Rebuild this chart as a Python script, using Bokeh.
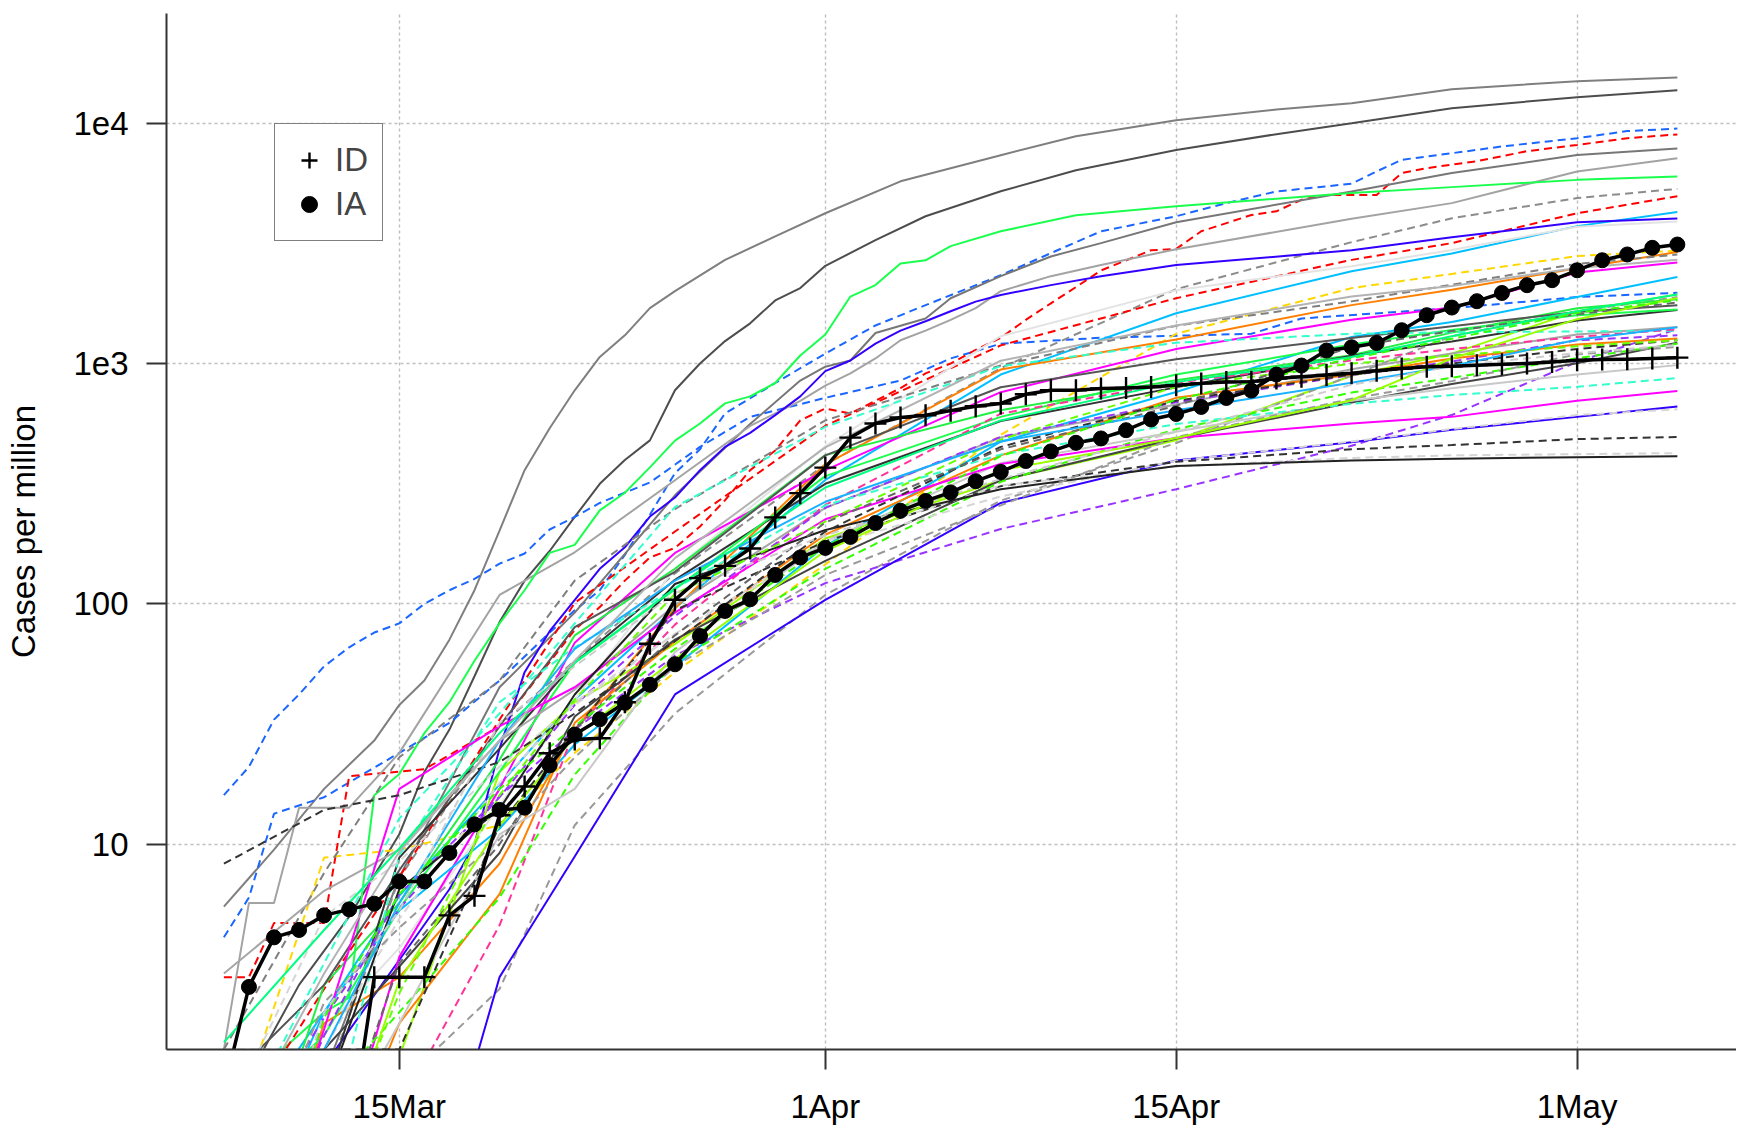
import math
from datetime import date, timedelta
from bokeh.plotting import figure
from bokeh.models import Range1d, FixedTicker, Legend, LegendItem
from bokeh.embed import file_html
from bokeh.resources import INLINE

nan = float("nan")

# ---------------- data ----------------
START = date(2020, 3, 8)
N_DAYS = 59                      # 8 Mar .. 5 May
ORIGIN = date(2020, 3, 15)

TICK_DATES = ["2020-03-15", "2020-04-01", "2020-04-15", "2020-05-01"]
TICK_LABELS = ["15Mar", "1Apr", "15Apr", "1May"]
Y_TICKS = [10, 100, 1000, 10000]
Y_LABELS = ["10", "100", "1e3", "1e4"]

# highlighted states, daily values (cases per million), 8 Mar .. 5 May
IA = [0.95, 2.55, 4.1, 4.4, 5.06, 5.36, 5.66, 7.0, 7.0, 9.2, 12.1, 13.9, 14.2,
      21.3, 28.6, 33.1, 38.8, 46.1, 56.1, 73.5, 93.5, 104.5, 132, 156,
      171, 190, 217, 244, 268, 291, 324, 354, 393, 431, 468, 488, 528, 585, 617,
      660, 719, 772, 900, 981, 1133, 1169, 1218, 1376, 1589, 1710, 1817, 1966,
      2118, 2222, 2444, 2690, 2843, 3030, 3127]
ID = [nan, nan, nan, nan, nan, 0.56, 2.8, 2.8, 2.8, 5.06, 6.1, 13.2, 17.4,
      23.9, 27.3, 27.6, 39, 68.3, 104, 128, 144, 170, 229, 289,
      369, 492, 563, 596, 609, 637, 664, 682, 745, 774, 774, 787, 791, 798, 813,
      827, 838, 841, 867, 881, 896, 911, 933, 953, 969, 975, 985, 994,
      1000, 1016, 1033, 1040, 1043, 1050, 1058]

# most other states: values at these dates
KEY_DATES = ["2020-03-08", "2020-03-12", "2020-03-15", "2020-03-19", "2020-03-22",
             "2020-03-26", "2020-04-01", "2020-04-08", "2020-04-15", "2020-04-22",
             "2020-04-26", "2020-05-01", "2020-05-05"]

# a few prominent states read in more detail (own dates)
NY_DATES = ["03-08", "03-10", "03-12", "03-14", "03-15", "03-16", "03-17", "03-18",
            "03-19", "03-20", "03-21", "03-22", "03-23", "03-24", "03-25", "03-26",
            "03-28", "03-30", "04-01", "04-04", "04-08", "04-11", "04-15", "04-19",
            "04-22", "04-26", "05-01", "05-05"]
NY = [5.5, 9.5, 17, 27, 38, 48, 71, 114, 202, 360, 538, 774, 1065, 1310, 1700, 2000,
      2700, 3380, 4220, 5730, 7360, 8830, 10290, 11400, 12100, 13850, 14950, 15500]

NJ_DATES = ["03-08", "03-11", "03-13", "03-15", "03-16", "03-17", "03-18", "03-19",
            "03-20", "03-21", "03-22", "03-23", "03-24", "03-25", "03-26", "03-27",
            "03-28", "03-29", "03-30", "03-31", "04-01", "04-03", "04-05", "04-08",
            "04-11", "04-15", "04-19", "04-22", "04-26", "05-01", "05-05"]
NJ = [0.7, 2.6, 5, 11, 20, 30, 50, 84, 125, 166, 230, 316, 397, 479, 774, 1000,
      1240, 1470, 1830, 2060, 2550, 3260, 4100, 5210, 6370, 7740, 9000, 10000,
      11540, 12830, 13700]

LA_DATES = ["03-08", "03-10", "03-12", "03-13", "03-14", "03-15", "03-16", "03-17",
            "03-18", "03-19", "03-20", "03-21", "03-22", "03-23", "03-24", "03-25",
            "03-26", "03-27", "03-28", "03-29", "03-30", "03-31", "04-01", "04-02",
            "04-03", "04-04", "04-05", "04-06", "04-08", "04-11", "04-15", "04-22",
            "04-26", "05-01", "05-05"]
LA = [0.2, 1.3, 2.0, 2.3, 16, 19.6, 29, 39, 58, 83, 114, 163, 176, 245, 290, 370,
      478, 563, 683, 730, 830, 1080, 1320, 1900, 2120, 2610, 2690, 3080, 3550, 4140,
      4510, 5120, 5420, 5810, 6000]

WA_DATES = ["03-08", "03-09", "03-10", "03-11", "03-12", "03-13", "03-14", "03-15",
            "03-16", "03-17", "03-18", "03-19", "03-20", "03-21", "03-22", "03-23",
            "03-25", "03-27", "03-29", "04-01", "04-04", "04-06", "04-08", "04-12",
            "04-18", "04-20", "04-26", "05-01", "05-05"]
WA = [16, 21, 33, 42, 55, 66, 76, 83, 100, 114, 127, 147, 162, 204, 230, 263, 320,
      450, 600, 720, 850, 1050, 1210, 1280, 1330, 1540, 1700, 1890, 1970]

MA_DATES = ["03-08", "03-09", "03-10", "03-12", "03-15", "03-17", "03-19", "03-21",
            "03-22", "03-23", "03-24", "03-25", "03-26", "03-27", "03-28", "03-30",
            "04-01", "04-03", "04-05", "04-08", "04-10", "04-12", "04-15", "04-17",
            "04-19", "04-22", "04-23", "04-24", "04-26", "04-28", "05-01", "05-03",
            "05-05"]
MA = [4.1, 6, 13.4, 15.7, 24, 32, 48, 76, 94, 114, 160, 235, 350, 440, 620, 830,
      1100, 1440, 1750, 2330, 2880, 3550, 4100, 4650, 5200, 5600, 6300, 7040, 7500,
      8000, 8660, 9270, 9500]

RI_DATES = ["03-08", "03-09", "03-10", "03-12", "03-13", "03-16", "03-19", "03-22",
            "03-23", "03-24", "03-25", "03-26", "03-27", "03-28", "03-29", "03-30",
            "03-31", "04-01", "04-02", "04-03", "04-04", "04-05", "04-06", "04-07",
            "04-08", "04-09", "04-10", "04-11", "04-12", "04-14", "04-15", "04-16",
            "04-18", "04-19", "04-20", "04-21", "04-23", "04-24", "04-25", "04-27",
            "04-29", "05-01", "05-03", "05-05"]
RI = [2.8, 2.8, 4.7, 4.7, 19.2, 20.5, 31, 78, 97, 125, 156, 171, 210, 270, 360, 435,
      580, 650, 620, 700, 790, 910, 1000, 1140, 1280, 1520, 1780, 2080, 2440, 2960,
      3000, 3550, 4150, 4300, 4800, 5030, 5030, 6200, 6500, 6950, 7650, 8120, 8660,
      8980]

MI_DATES = ["03-10", "03-12", "03-15", "03-17", "03-18", "03-19", "03-20", "03-21",
            "03-23", "03-24", "03-25", "03-26", "03-27", "03-28", "03-29", "03-30",
            "03-31", "04-01", "04-02", "04-03", "04-04", "04-05", "04-06", "04-07",
            "04-08", "04-10", "04-12", "04-15", "04-22", "04-26", "05-01", "05-05"]
MI = [0.2, 1.2, 3.3, 6.5, 10, 25, 52, 77, 140, 172, 231, 277, 360, 450, 515, 610,
      730, 930, 1030, 1210, 1370, 1500, 1650, 1810, 1930, 2120, 2310, 2570, 2960,
      3350, 3870, 4010]

CT_DATES = ["03-08", "03-12", "03-15", "03-19", "03-22", "03-26", "03-29", "03-31",
            "04-01", "04-02", "04-03", "04-05", "04-06", "04-08", "04-10", "04-12",
            "04-15", "04-22", "04-26", "05-01", "05-05"]
CT = [0.5, 1.1, 7.3, 45, 92, 283, 560, 850, 970, 1030, 1340, 1540, 1870, 2310, 2790,
      3170, 3870, 5200, 6200, 7370, 7850]

DC_DATES = ["03-08", "03-09", "03-10", "03-11", "03-13", "03-15", "03-19", "03-22",
            "03-26", "03-29", "03-31", "04-01", "04-02", "04-03", "04-04", "04-05",
            "04-06", "04-07", "04-08", "04-10", "04-12", "04-15", "04-22", "04-26",
            "05-01", "05-05"]
DC = [1.4, 5.7, 5.7, 14.2, 14.2, 24, 109, 164, 327, 550, 700, 810, 910, 1050, 1250,
      1370, 1520, 1700, 2000, 2310, 2570, 2990, 4000, 4650, 6300, 7150]

DE = [0.3, 1.0, 7.2, 31, 58, 134, 380, 957, 2040, 3200, 4020, 4880, 5330]
IL = [0.55, 2.5, 7.3, 33, 101, 200, 551, 1190, 1870, 2700, 3170, 4220, 4970]
MD = [0.5, 2, 6.1, 17.7, 40, 96, 328, 900, 1620, 2420, 2870, 3730, 4270]
PA = [0.3, 1.7, 3.7, 14.5, 40, 140, 453, 1300, 2020, 2540, 2970, 3710, 3900]
SD = [0.5, 8.8, 9.5, 12, 24, 52, 146, 505, 1330, 2060, 2360, 2800, 2950]
IN = [0.1, 1.8, 2.8, 8.3, 30, 96, 381, 944, 1260, 1750, 2030, 2490, 2910]
CO = [1.4, 7.6, 23, 48, 125, 248, 580, 982, 1437, 1814, 2128, 2600, 2840]
MS = [0.1, 0.3, 3.4, 17, 69, 163, 360, 760, 1150, 1520, 1710, 2390, 2630]
VA = [0.23, 2, 5.3, 11.6, 26, 55, 174, 473, 761, 1290, 1490, 1890, 2290]
ND = [0.1, 0.5, 1.3, 20, 39, 68, 187, 327, 480, 890, 1100, 1650, 1940]
NE = [0.3, 0.5, 1, 2.5, 12, 35, 109, 269, 467, 892, 1300, 1650, 1890]
TN = [0.15, 2.6, 5.7, 22.5, 74, 140, 416, 639, 853, 1083, 1345, 1700, 1850]
NV = [1, 2.6, 7.8, 31, 80, 136, 415, 797, 1042, 1278, 1428, 1640, 1750]
UT = [0.3, 0.9, 8.8, 25, 57, 126, 316, 577, 796, 1077, 1234, 1509, 1670]
FL = [0.65, 1.6, 5.4, 20, 57, 115, 340, 600, 900, 1200, 1380, 1590, 1680]
CA = [2.9, 6.4, 9.5, 27, 44, 99, 251, 493, 676, 946, 1100, 1321, 1420]
MN = [0.18, 1.6, 6.2, 15.8, 30, 61, 122, 205, 300, 455, 611, 1016, 1392]
VT = [0.5, 3.2, 12.8, 35, 83, 253, 545, 975, 1220, 1330, 1350, 1360, 1370]
MO = [0.1, 0.2, 0.8, 4.6, 30, 82, 258, 619, 832, 1030, 1150, 1290, 1390]
SC = [0.4, 1.9, 5.4, 15.7, 38, 89, 251, 496, 690, 895, 1020, 1250, 1310]
AZ = [0.1, 0.3, 1.8, 6.2, 32, 70, 194, 415, 720, 900, 1050, 1200, 1270]
NC = [0.2, 1.4, 3.1, 9.2, 34, 71, 151, 327, 488, 688, 822, 1002, 1220]
TX = [0.45, 0.9, 2, 6, 19.5, 57, 140, 322, 534, 757, 872, 1052, 1210]
OK = [0.25, 0.5, 1.8, 11, 17, 63, 182, 385, 520, 700, 790, 900, 985]
ME = [0.1, 0.5, 9, 39, 66, 116, 257, 418, 560, 680, 740, 800, 870]
WY = [0.1, 1.7, 17, 31, 45, 92, 225, 382, 490, 563, 600, 700, 769]
WV = [nan, nan, 0.1, 2.8, 8.9, 42, 104, 263, 395, 470, 530, 600, 663]
OR = [0.7, 5, 8.5, 21, 38, 75, 174, 280, 394, 474, 534, 611, 645]
AK = [0.1, 1.4, 1.4, 12, 30, 94, 182, 309, 390, 440, 458, 485, 495]
HI = [1.4, 1.4, 4.9, 18, 39, 75, 182, 311, 373, 405, 415, 420, 424]
MT = [0.1, 0.9, 6.5, 14, 42, 121, 203, 300, 375, 395, 402, 408, 411]
GU = [8.3, 13.9, 16, 22, 35, 70, 200, 450, 700, 900, 1000, 1150, 1250]
AL = [0.1, 0.4, 2.4, 16, 40, 110, 220, 483, 800, 1000, 1080, 1180, 1250]
KY = [0.2, 2.2, 4.5, 10.5, 23, 55, 132, 257, 494, 714, 845, 1092, 1173]
OH = [0.1, 0.4, 3.2, 10, 30, 74, 218, 440, 667, 1174, 1365, 1603, 1794]
WI = [0.17, 1.4, 5.7, 27, 65, 125, 266, 474, 639, 832, 977, 1257, 1415]
KS = [0.34, 0.34, 2.7, 12, 28, 59, 166, 360, 490, 704, 1050, 1530, 1875]
NM = [0.1, 1.9, 6.2, 17, 31, 65, 173, 412, 707, 1052, 1267, 1625, 1833]
AR = [0.1, 2, 5.3, 32, 55, 111, 193, 331, 520, 816, 974, 1106, 1196]
NH = [1.5, 4.4, 9.6, 29, 57, 116, 305, 580, 837, 1064, 1300, 1650, 1938]
GA = [0.5, 2.9, 9.3, 27, 58, 155, 448, 1027, 1440, 1900, 2100, 2500, 2700]

DETAILED = {"NY": (NY_DATES, NY), "NJ": (NJ_DATES, NJ), "LA": (LA_DATES, LA),
            "WA": (WA_DATES, WA), "MA": (MA_DATES, MA), "RI": (RI_DATES, RI),
            "MI": (MI_DATES, MI), "CT": (CT_DATES, CT), "DC": (DC_DATES, DC)}

STATES = {
    "DE": DE, "IL": IL, "MD": MD, "PA": PA, "SD": SD,
    "IN": IN, "CO": CO, "MS": MS, "VA": VA, "ND": ND, "NE": NE, "TN": TN, "NV": NV,
    "UT": UT, "FL": FL, "CA": CA, "MN": MN, "VT": VT, "MO": MO, "SC": SC, "AZ": AZ,
    "NC": NC, "TX": TX, "OK": OK, "ME": ME, "WY": WY, "WV": WV, "OR": OR, "AK": AK,
    "HI": HI, "MT": MT, "GU": GU, "AL": AL, "KY": KY, "OH": OH, "WI": WI, "KS": KS,
    "NM": NM, "AR": AR, "NH": NH, "GA": GA,
}

# ---------------- styles ----------------
D = "8 5"
S = "solid"
STYLE = {
    "NY": ("#7f7f7f", S), "NJ": ("#4d4d4d", S), "MA": ("#1a66ff", D), "WA": ("#1a66ff", D),
    "RI": ("#ff0000", D), "CT": ("#777777", S), "DC": ("#a3a3a3", S), "LA": ("#1aff4d", S),
    "DE": ("#8c8c8c", D), "IL": ("#ff0000", D), "MD": ("#00bfff", S), "MI": ("#3300ff", S),
    "PA": ("#e3e3e3", S), "SD": ("#ffd700", D), "IN": ("#ff7f00", S), "CO": ("#7f7f7f", D),
    "MS": ("#ff00ff", S), "VA": ("#00bfff", S), "ND": ("#99ff00", S), "NE": ("#999999", D),
    "TN": ("#22ee44", S), "NV": ("#555555", S), "UT": ("#333333", S), "FL": ("#1aff4d", S),
    "CA": ("#a6a6a6", S), "MN": ("#9933ff", D), "VT": ("#33ffcc", D), "MO": ("#ff3399", D),
    "SC": ("#9933ff", D), "AZ": ("#ff7f00", S), "NC": ("#444444", S), "TX": ("#33ff00", D),
    "OK": ("#c8c8c8", S), "ME": ("#33ffcc", D), "WY": ("#ff00ff", S), "WV": ("#3300ff", S),
    "OR": ("#d6d6d6", D), "AK": ("#333333", D), "HI": ("#d6d6d6", D), "MT": ("#222222", S),
    "GU": ("#333333", D), "AL": ("#66ff00", D), "KY": ("#999999", D), "OH": ("#666666", D),
    "WI": ("#1ab2ff", S), "KS": ("#99ff00", S), "NM": ("#33ff00", D), "AR": ("#cccccc", D),
    "NH": ("#00ff80", S), "GA": ("#b3b3b3", S),
}
DRAW_ORDER = ["NY", "NJ", "MA", "WA", "RI", "CT", "DC", "LA", "DE", "IL", "MD", "MI",
              "PA", "SD", "IN", "CO", "MS", "VA", "ND", "NE", "TN", "NV", "UT", "FL",
              "CA", "MN", "VT", "MO", "SC", "AZ", "NC", "TX", "OK", "ME", "WY", "WV",
              "OR", "AK", "HI", "MT", "GU", "AL", "KY", "OH", "WI", "KS", "NM", "AR",
              "NH", "GA"]


def day(s):
    parts = list(map(int, s.split("-")))
    if len(parts) == 2:
        parts = [2020] + parts
    return (date(*parts) - ORIGIN).days


x_daily = [(START + timedelta(days=i) - ORIGIN).days for i in range(N_DAYS)]
x_key = [day(s) for s in KEY_DATES]

# ---------------- figure ----------------
PX_PER_DAY = 25.06
LEFT, RIGHT, TOP, BOTTOM = 166, 1736, 13, 1049
W, H = 1736, 1130
x0 = -9.29
p = figure(width=W, height=H, y_axis_type="log",
           x_range=Range1d(x0, x0 + (RIGHT - LEFT) / PX_PER_DAY),
           y_range=Range1d(1.40, 28600),
           output_backend="svg", toolbar_location=None,
           min_border_left=LEFT, min_border_right=W - RIGHT, min_border_top=TOP,
           min_border_bottom=H - BOTTOM)
p.outline_line_color = None
p.background_fill_color = "white"

FONT = "Liberation Sans"
xt = FixedTicker(ticks=[day(s) for s in TICK_DATES])
yt = FixedTicker(ticks=Y_TICKS)
p.xaxis.ticker = xt
p.yaxis.ticker = yt
p.xaxis.major_label_overrides = {day(s): lab for s, lab in zip(TICK_DATES, TICK_LABELS)}
p.yaxis.major_label_overrides = {v: lab for v, lab in zip(Y_TICKS, Y_LABELS)}
for ax in (p.xaxis[0], p.yaxis[0]):
    ax.major_label_text_font = FONT
    ax.major_label_text_font_size = "33px"
    ax.major_label_text_color = "black"
    ax.major_tick_out = 20
    ax.major_tick_in = 0
    ax.minor_tick_out = 0
    ax.minor_tick_in = 0
    ax.major_tick_line_width = 2
    ax.major_tick_line_color = "#333333"
    ax.axis_line_width = 2
    ax.axis_line_color = "#333333"
    ax.major_label_standoff = 18
p.yaxis.axis_label = "Cases per million"
p.yaxis.axis_label_text_font = FONT
p.yaxis.axis_label_text_font_size = "33px"
p.yaxis.axis_label_text_font_style = "normal"
p.yaxis.axis_label_text_color = "black"
p.yaxis.axis_label_standoff = 28

p.xgrid.ticker = xt
p.ygrid.ticker = yt
for g in (p.xgrid[0], p.ygrid[0]):
    g.grid_line_color = "#bebebe"
    g.grid_line_dash = "3 3"
    g.grid_line_width = 1.4

for name in DRAW_ORDER:
    col, dash = STYLE[name]
    if name in DETAILED:
        ds, vals = DETAILED[name]
        xs = [day(s) for s in ds]
    else:
        xs, vals = x_key, STATES[name]
    p.line(xs, vals, line_color=col, line_width=2.0, line_dash=dash)

p.line(x_daily, ID, line_color="black", line_width=3.5, line_join="round")
id_pts = p.scatter(x_daily, ID, marker="cross", size=22, line_color="black",
                   line_width=2.4)
p.line(x_daily, IA, line_color="black", line_width=3.5, line_join="round")
ia_pts = p.scatter(x_daily, IA, marker="circle", size=15, fill_color="black",
                   line_color="black")

legend = Legend(items=[LegendItem(label="ID", renderers=[id_pts]),
                       LegendItem(label="IA", renderers=[ia_pts])],
                location=(274 - LEFT, BOTTOM - 241), orientation="vertical",
                padding=14, spacing=0, margin=0,
                glyph_width=40, glyph_height=44, label_height=44,
                label_standoff=6,
                label_text_font=FONT, label_text_font_size="33px",
                border_line_color="black", border_line_width=1.5,
                background_fill_alpha=1.0)
p.add_layout(legend)

open("out.html", "w").write(file_html(p, INLINE))
